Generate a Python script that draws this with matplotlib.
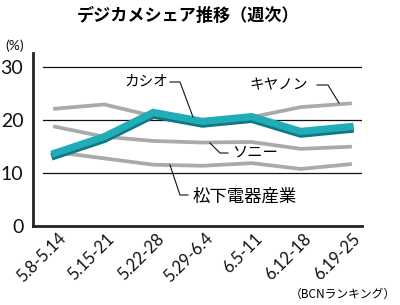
import matplotlib
matplotlib.use("Agg")
import matplotlib.pyplot as plt
from matplotlib.transforms import ScaledTranslation

plt.rcParams['font.family'] = ['Noto Sans CJK JP', 'DejaVu Sans']

weeks = ["5.8-5.14", "5.15-21", "5.22-28", "5.29-6.4", "6.5-11", "6.12-18", "6.19-25"]
casio = [13.8, 16.9, 21.5, 19.8, 20.7, 17.9, 18.8]
canon = [22.2, 23.0, 20.8, 20.0, 20.6, 22.5, 23.2]
sony = [18.8, 16.9, 16.1, 15.8, 15.9, 14.6, 15.0]
panasonic = [14.0, 12.8, 11.6, 11.4, 11.9, 10.8, 11.7]
yticks = [0, 10, 20, 30]

W, H = 400, 305
fig = plt.figure(figsize=(W / 100, H / 100), dpi=100)
L, R, T, B = 33, 362, 53, 226
ax = fig.add_axes([L / W, (H - B) / H, (R - L) / W, (B - T) / H])

x = list(range(len(weeks)))
ppu_x = 49.17
ax.set_xlim(-(55 - L) / ppu_x, 6 + (R - 350) / ppu_x)
ppu_y = (B - 67.5) / 30
ax.set_ylim(0, (B - T) / ppu_y)

for yv in yticks[1:]:
    ax.axhline(yv, xmin=(43 - L) / (R - L), xmax=1, color='#111111', lw=0.9, zorder=1)

gray = '#aaaaaa'
for s in (canon, sony, panasonic):
    ax.plot(x, s, color=gray, lw=2.7, solid_joinstyle='miter', zorder=2)

shadow = ax.transData + ScaledTranslation(0, -2.6 / 100, fig.dpi_scale_trans)
ax.plot(x, casio, color='#0f7882', lw=5.4, solid_joinstyle='miter', transform=shadow, zorder=3)
ax.plot(x, casio, color='#20adb8', lw=5.2, solid_joinstyle='miter', zorder=4)

for sp in ('top', 'right'):
    ax.spines[sp].set_visible(False)
ax.spines['left'].set_linewidth(2)
ax.spines['bottom'].set_linewidth(2)
ax.spines['left'].set_color('#222222')
ax.spines['bottom'].set_color('#222222')

num_font = dict(family=['Lato', 'DejaVu Sans'], fontweight='normal', color='#111111')
ax.set_yticks(yticks)
ax.set_yticklabels([str(v) for v in yticks], fontsize=14, **num_font)
ax.tick_params(axis='y', length=0, pad=7)
ax.set_xticks(x)
ax.set_xticklabels(weeks, rotation=45, ha='right', va='center', rotation_mode='anchor',
                   fontsize=12, **num_font)
ax.tick_params(axis='x', length=0, pad=0)
off = ScaledTranslation(8 / 100, -10 / 100, fig.dpi_scale_trans)
for lab in ax.get_xticklabels():
    lab.set_transform(lab.get_transform() + off)

def px(xp, yp):
    return ((xp - 55) / ppu_x, (B - yp) / ppu_y)

def leader(pts):
    d = [px(*p) for p in pts]
    ax.plot([p[0] for p in d], [p[1] for p in d], color='#111111', lw=0.8, zorder=5, clip_on=False)

leader([(170, 82), (180, 82), (193, 117)])
leader([(317, 85), (328, 85), (339, 103)])
leader([(210, 143), (220, 153), (228, 153)])
leader([(170, 165), (180, 195), (188, 195)])

ax.text(*px(146, 82), "カシオ", fontsize=10.5, ha='center', va='center', zorder=6)
ax.text(*px(279, 85), "キヤノン", fontsize=10.5, ha='center', va='center', zorder=6)
ax.text(*px(255, 152), "ソニー", fontsize=11, ha='center', va='center', zorder=6)
ax.text(*px(245, 197), "松下電器産業", fontsize=12.5, ha='center', va='center', zorder=6)

fig.text(188 / W, 1 - 16 / H, "デジカメシェア推移（週次）", fontsize=12.3, fontweight='bold',
         ha='center', va='center')
fig.text(15 / W, 1 - 46 / H, "(%)", fontsize=10, ha='center', va='center', **num_font)
fig.text(396 / W, 1 - 294 / H, "（BCNランキング）", fontsize=8.5, ha='right', va='center')

fig.savefig("out.png", dpi=100)
